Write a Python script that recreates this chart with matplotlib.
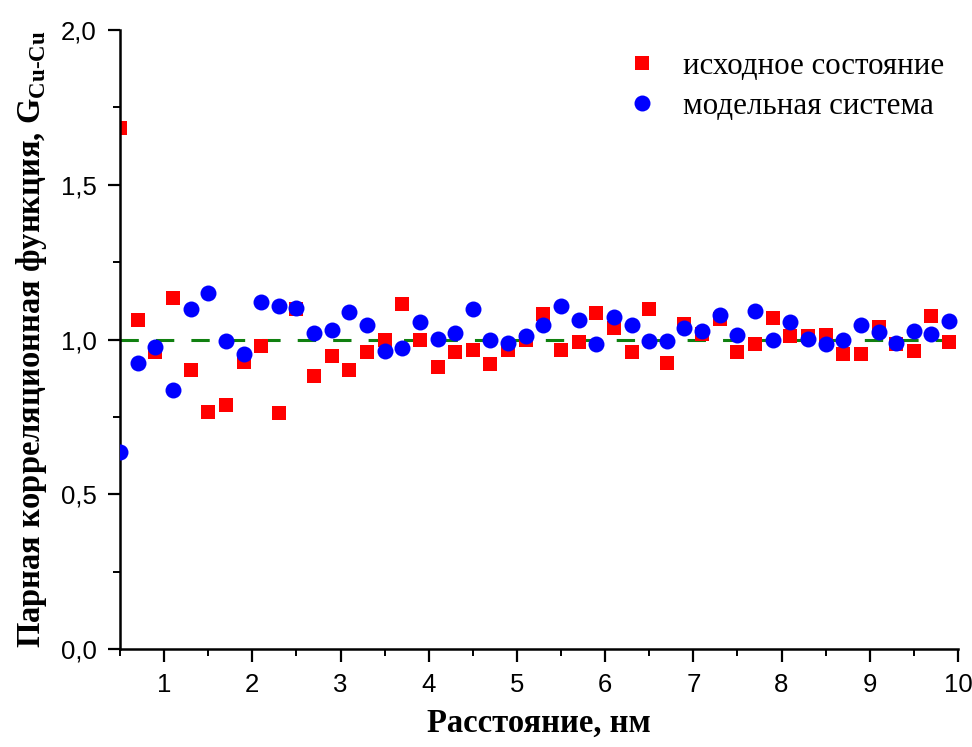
import matplotlib
matplotlib.use("Agg")
import matplotlib.pyplot as plt
from matplotlib.ticker import MultipleLocator

plt.rcParams['mathtext.fontset'] = 'custom'
plt.rcParams['mathtext.rm'] = 'Liberation Serif'
plt.rcParams['mathtext.bf'] = 'Liberation Serif:bold'

# distance, nm
dist = [0.5, 0.7, 0.9, 1.1, 1.3, 1.5, 1.7, 1.9, 2.1, 2.3, 2.5, 2.7, 2.9, 3.1, 3.3, 3.5,
        3.7, 3.9, 4.1, 4.3, 4.5, 4.7, 4.9, 5.1, 5.3, 5.5, 5.7, 5.9, 6.1, 6.3, 6.5, 6.7,
        6.9, 7.1, 7.3, 7.5, 7.7, 7.9, 8.1, 8.3, 8.5, 8.7, 8.9, 9.1, 9.3, 9.5, 9.7, 9.9]

# исходное состояние
g_initial = [1.683, 1.064, 0.959, 1.134, 0.902, 0.766, 0.787, 0.927, 0.978, 0.763, 1.099, 0.882,
             0.948, 0.902, 0.959, 0.997, 1.114, 1.000, 0.910, 0.959, 0.966, 0.920, 0.967, 0.997,
             1.083, 0.966, 0.992, 1.086, 1.036, 0.959, 1.100, 0.925, 1.051, 1.018, 1.067, 0.959,
             0.985, 1.070, 1.010, 1.010, 1.016, 0.954, 0.954, 1.040, 0.984, 0.962, 1.076, 0.992]

# модельная система
g_model = [0.638, 0.924, 0.977, 0.837, 1.098, 1.151, 0.994, 0.952, 1.122, 1.108, 1.103, 1.020,
           1.031, 1.088, 1.048, 0.962, 0.973, 1.058, 1.001, 1.020, 1.098, 0.999, 0.988, 1.012,
           1.048, 1.107, 1.064, 0.986, 1.072, 1.048, 0.996, 0.996, 1.038, 1.029, 1.079, 1.016,
           1.092, 1.000, 1.056, 1.002, 0.986, 1.000, 1.047, 1.024, 0.988, 1.029, 1.018, 1.059]

fig = plt.figure(figsize=(9.72, 7.47), dpi=100)
ax = fig.add_axes([0.1235, 0.1312, 0.862, 0.8286])

ax.plot([0.5, 10], [1.0, 1.0], color='#108010', lw=2.2, dashes=(6.0, 5.6), zorder=1)
ax.plot(dist, g_initial, 's', color='#ff0000', ms=10.5, mew=0,
        label='исходное состояние', zorder=2)
ax.plot(dist, g_model, 'o', color='#0000ff', ms=11.5, mew=0,
        label='модельная система', zorder=3)

ax.set_xlim(0.5, 10)
ax.set_ylim(0, 2.0)
ax.spines['top'].set_visible(False)
ax.spines['right'].set_visible(False)
ax.spines['left'].set_linewidth(1.8)
ax.spines['bottom'].set_linewidth(1.8)

ax.xaxis.set_major_locator(MultipleLocator(1))
ax.xaxis.set_minor_locator(MultipleLocator(0.5))
ax.yaxis.set_major_locator(MultipleLocator(0.5))
ax.yaxis.set_minor_locator(MultipleLocator(0.25))
ax.yaxis.set_major_formatter(plt.FuncFormatter(lambda v, p: f'{v:.1f}'.replace('.', ',')))
ax.tick_params(which='major', direction='out', length=9, width=1.6, labelsize=18.5, pad=8)
ax.tick_params(which='minor', direction='out', length=5, width=1.4)
for lab in ax.get_xticklabels() + ax.get_yticklabels():
    lab.set_family('Liberation Sans')

ax.set_xlabel('Расстояние, нм', family='Liberation Serif', weight='bold',
              fontsize=23.5, labelpad=8)
ax.set_ylabel(r'Парная корреляционная функция, G$_{\mathbf{Cu{\text{-}}Cu}}$',
              family='Liberation Serif', weight='bold', fontsize=23.5, labelpad=8)

ax.legend(loc='upper right', frameon=False, prop={'family': 'Liberation Serif', 'size': 22.3},
          handletextpad=0.35, borderaxespad=0.3, labelspacing=0.33, numpoints=1,
          bbox_to_anchor=(1.01, 0.999))

fig.savefig('out.png', dpi=100)
